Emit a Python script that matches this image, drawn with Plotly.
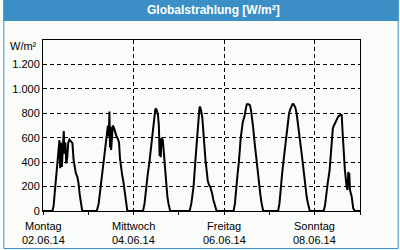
import plotly.graph_objects as go

# ---- data (hour of day, W/m²) ----
LABEL_HOURS = [0, 48, 96, 144]
LABEL_DAYS = ["Montag", "Mittwoch", "Freitag", "Sonntag"]
LABEL_DATES = ["02.06.14", "04.06.14", "06.06.14", "08.06.14"]

d1_h = [0, 5.0, 5.6, 6.6, 7.5, 8.2, 8.7, 9.1, 9.5, 10.0, 10.5, 11.0, 11.4, 11.9, 12.3, 12.8, 13.4, 14.0,
        14.8, 15.6, 16.2, 16.8, 17.4, 18.2, 18.8, 19.5, 20.2, 20.8, 24]
d1_v = [0, 0, 40, 200, 390, 480, 580, 350, 560, 360, 520, 655, 470, 560, 390, 430, 560, 585,
        570, 555, 420, 340, 310, 280, 230, 130, 40, 0, 0]

d2_h = [0, 4.5, 5.5, 6.6, 7.5, 8.4, 9.2, 9.8, 10.4, 10.9, 11.2, 11.5, 11.8, 12.1, 12.5, 13.0, 13.6,
        14.3, 15.0, 15.7, 16.3, 16.8, 17.3, 17.9, 18.5, 19.3, 20.1, 20.7, 24]
d2_v = [0, 0, 60, 200, 300, 400, 500, 600, 700, 610, 815, 520, 690, 500, 640, 700, 680,
        640, 610, 590, 560, 430, 360, 300, 250, 150, 60, 0, 0]

d3_h = [0, 5.0, 5.8, 6.6, 7.5, 8.4, 9.1, 9.8, 10.4, 10.9, 11.5, 11.9, 12.4, 12.9, 13.4, 13.8, 14.1,
        14.4, 14.8, 15.5, 16.0, 16.5, 17.3, 17.9, 18.5, 19.4, 24]
d3_v = [0, 0, 60, 200, 300, 400, 500, 600, 720, 800, 830, 835, 820, 790, 700, 450, 590,
        440, 600, 580, 480, 400, 200, 120, 60, 0, 0]

d4_h = [0, 5.7, 6.6, 7.8, 8.7, 9.6, 10.4, 10.9, 11.2, 11.7, 12.4, 13.1, 14.1, 15.3, 16.0, 16.6,
        17.1, 17.7, 18.3, 19.2, 20.0, 24]
d4_v = [0, 0, 60, 200, 400, 600, 800, 840, 855, 830, 770, 610, 420, 250, 210, 200,
        175, 140, 90, 30, 0, 0]

d5_h = [0, 5.0, 5.7, 6.4, 7.1, 7.8, 8.8, 9.9, 10.8, 11.4, 12.0, 12.9, 13.7, 14.3, 14.8, 15.4, 16.0,
        16.6, 17.2, 17.9, 18.6, 19.3, 19.9, 20.7, 24]
d5_v = [0, 0, 60, 200, 300, 400, 600, 730, 775, 830, 875, 875, 865, 820, 770, 680, 580,
        490, 390, 300, 200, 120, 60, 0, 0]

d6_h = [0, 4.6, 5.3, 6.0, 6.7, 7.4, 8.1, 8.8, 9.6, 10.4, 11.0, 11.6, 12.2, 12.7, 13.2, 13.7, 14.4,
        15.3, 16.2, 17.0, 17.9, 18.5, 19.1, 19.8, 20.4, 21.4, 24]
d6_v = [0, 0, 60, 200, 300, 400, 500, 600, 700, 800, 830, 850, 875, 876, 865, 849, 800,
        700, 608, 480, 362, 270, 172, 110, 63, 0, 0]

d7_h = [0, 4.7, 5.4, 6.1, 7.0, 7.9, 8.8, 9.6, 10.2, 11.0, 11.7, 12.5, 13.5, 14.3, 14.8, 15.5, 16.0,
        16.9, 17.4, 17.8, 18.0, 18.3, 18.7, 19.6, 20.4, 21.3, 24]
d7_v = [0, 0, 40, 145, 240, 335, 500, 676, 700, 730, 758, 775, 785, 785, 638, 444, 335,
        200, 172, 321, 220, 310, 172, 117, 22, 0, 0]

Y_TICKS = [0, 200, 400, 600, 800, 1000, 1200]
Y_LABELS = ["0", "200", "400", "600", "800", "1.000", "1.200"]

days = [(d1_h, d1_v), (d2_h, d2_v), (d3_h, d3_v), (d4_h, d4_v), (d5_h, d5_v), (d6_h, d6_v), (d7_h, d7_v)]
xs, ys = [], []
for i, (h, v) in enumerate(days):
    xs += [24 * i + t for t in h]
    ys += v

# ---- layout geometry (pixels) ----
W, H = 400, 250
L, R, T, B = 40, 40, 40, 39
PW, PH = W - L - R, H - T - B
def px(x): return (x - L) / PW
def py(y): return (H - B - y) / PH

BLUE = "#3b8fc6"
BG = "#fafcfa"
FONT = "Liberation Sans, Arial, sans-serif"

fig = go.Figure()
fig.add_trace(go.Scatter(x=xs, y=ys, mode="lines", line=dict(color="black", width=2),
                         hoverinfo="skip", showlegend=False))

annotations = [
    dict(text="Globalstrahlung [W/m²]", xref="paper", yref="paper", x=px(212), y=py(10.5),
         xanchor="center", yanchor="middle", showarrow=False,
         font=dict(family=FONT, size=12, color="white", weight="bold")),
    dict(text="W/m²", xref="paper", yref="paper", x=px(35.5), y=py(46),
         xanchor="right", yanchor="middle", showarrow=False,
         font=dict(family=FONT, size=11, color="black")),
]
for hx, dname, dstr in zip(LABEL_HOURS, LABEL_DAYS, LABEL_DATES):
    annotations.append(dict(text=dname, xref="x", yref="paper", x=hx, y=py(226.5),
                            xanchor="center", yanchor="middle", showarrow=False,
                            font=dict(family=FONT, size=11, color="black")))
    annotations.append(dict(text=dstr, xref="x", yref="paper", x=hx, y=py(239.5),
                            xanchor="center", yanchor="middle", showarrow=False,
                            font=dict(family=FONT, size=11, color="black")))

fig.update_layout(
    width=W, height=H, margin=dict(l=L, r=R, t=T, b=B),
    paper_bgcolor=BG, plot_bgcolor=BG,
    font=dict(family=FONT, size=11, color="black"),
    showlegend=False,
    xaxis=dict(range=[0, 168], tickmode="array", tickvals=LABEL_HOURS, showticklabels=False,
               ticks="outside", ticklen=3, tickcolor="black",
               showgrid=True, gridcolor="black", gridwidth=1, griddash="4px,3px",
               minor=dict(tickmode="linear", tick0=0, dtick=24, ticks="outside", ticklen=3,
                          tickcolor="black", showgrid=False),
               showline=True, linecolor="black", linewidth=1, mirror=True,
               zeroline=False, fixedrange=True),
    yaxis=dict(range=[0, 1400], tickmode="array", tickvals=Y_TICKS, ticktext=Y_LABELS,
               ticks="", showgrid=True, gridcolor="black", gridwidth=1, griddash="4px,3px",
               showline=True, linecolor="black", linewidth=1, mirror=True,
               zeroline=False, fixedrange=True),
    shapes=[
        dict(type="rect", xref="paper", yref="paper", x0=px(0), x1=px(399), y0=py(21), y1=py(0),
             fillcolor=BLUE, line=dict(width=0), layer="below"),
        dict(type="rect", xref="paper", yref="paper", x0=px(0.5), x1=px(398.5), y0=py(248.5), y1=py(0),
             fillcolor="rgba(0,0,0,0)", line=dict(color=BLUE, width=1)),
    ],
    annotations=annotations,
)

fig.write_html("out.html")
